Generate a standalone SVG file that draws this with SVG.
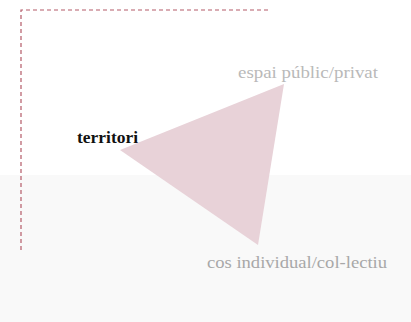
<svg xmlns="http://www.w3.org/2000/svg" width="411" height="322" viewBox="0 0 411 322">
<style>
.frame{fill:none;stroke:#b45a68;stroke-width:1.2;stroke-dasharray:4 3}
.lbl{font-family:"Liberation Serif",serif;font-size:16px}
</style>
<rect width="411" height="322" fill="#ffffff"/>
<rect x="0" y="175" width="411" height="147" fill="#f9f9f9"/>
<g id="connectors">
<path class="frame" d="M21,250 V10 H268"/>
</g>
<g id="triangle">
<polygon points="120,150 284,84 258,245" fill="#e8d2d8"/>
</g>
<g id="territori">
<text class="lbl" x="77" y="143" font-weight="bold" font-size="15" fill="#111" textLength="61" lengthAdjust="spacingAndGlyphs">territori</text>
</g>
<g id="espai">
<text class="lbl" x="238" y="78" fill="#b9b9b9" textLength="140" lengthAdjust="spacingAndGlyphs">espai públic/privat</text>
</g>
<g id="cos">
<text class="lbl" x="207" y="268" fill="#a8a8a8" textLength="180" lengthAdjust="spacingAndGlyphs">cos individual/col-lectiu</text>
</g>
</svg>
